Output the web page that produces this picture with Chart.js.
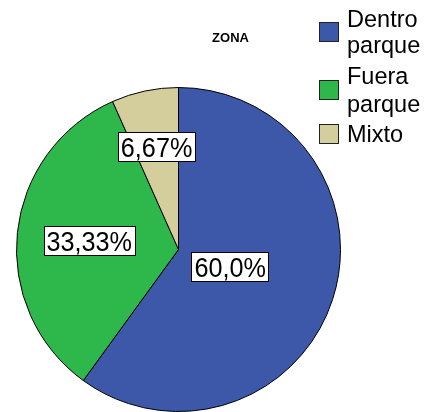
<!DOCTYPE html>
<html>
<head>
<meta charset="utf-8">
<script src="https://cdn.jsdelivr.net/npm/chart.js@4.4.0/dist/chart.umd.min.js"></script>
<style>
  body { margin: 0; background: #fff; }
  #wrap { position: relative; width: 431px; height: 412px; }
</style>
</head>
<body>
<div id="wrap"><canvas id="pieChart"></canvas></div>
<script>
// --- DATA ---
const chartTitle = 'ZONA';
const categories = [['Dentro', 'parque'], ['Fuera', 'parque'], ['Mixto']];
const counts = [9, 5, 1];
const pctLabels = ['60,0%', '33,33%', '6,67%'];
const sliceColors = ['#3D57A9', '#2EB84B', '#D3CE9B'];

// seberapa jauh label dari pusat (fraksi radius)
const labelRadius = [0.335, 0.554, 0.651];

// teks dengan skala horizontal (font referensi agak sempit)
function drawText(ctx, txt, x, y, size, sx, align) {
    ctx.save();
    ctx.font = size + 'px "Liberation Sans", Arial, sans-serif';
    ctx.textBaseline = 'alphabetic';
    ctx.textAlign = 'left';
    let w = ctx.measureText(txt).width * sx;
    let left = align === 'center' ? x - w / 2 : x;
    ctx.translate(left, y);
    ctx.scale(sx, 1);
    ctx.fillStyle = '#000';
    ctx.fillText(txt, 0, 0);
    ctx.restore();
    return w;
}

const labelPlugin = {
    id: 'pctBoxes',
    afterDatasetsDraw(chart) {
        const ctx = chart.ctx;
        const meta = chart.getDatasetMeta(0);
        meta.data.forEach((arc, i) => {
            const p = arc.getProps(['x', 'y', 'startAngle', 'endAngle', 'outerRadius'], true);
            const mid = (p.startAngle + p.endAngle) / 2;
            const r = p.outerRadius * labelRadius[i];
            const cx = p.x + Math.cos(mid) * r;
            const cy = p.y + Math.sin(mid) * r;
            ctx.save();
            ctx.font = '28px "Liberation Sans", Arial, sans-serif';
            const w = ctx.measureText(pctLabels[i]).width * 0.9 + 6;
            const h = 29;
            ctx.fillStyle = '#fff';
            ctx.fillRect(Math.round(cx - w / 2) + 0.5, Math.round(cy - h / 2) + 0.5, Math.round(w), h);
            ctx.strokeStyle = '#000';
            ctx.lineWidth = 1;
            ctx.strokeRect(Math.round(cx - w / 2) + 0.5, Math.round(cy - h / 2) + 0.5, Math.round(w), h);
            ctx.restore();
            drawText(ctx, pctLabels[i], cx, cy + 10.5, 28, 0.9, 'center');
        });
    }
};

const legendPlugin = {
    id: 'sideLegend',
    afterDraw(chart) {
        const ctx = chart.ctx;
        // judul
        ctx.save();
        ctx.font = 'bold 13px "Liberation Sans", Arial, sans-serif';
        ctx.fillStyle = '#000';
        ctx.textAlign = 'center';
        ctx.textBaseline = 'alphabetic';
        ctx.fillText(chartTitle, 230.5, 42);
        ctx.restore();

        const baselines = [[27, 53], [84, 112], [142]];
        categories.forEach((lines, i) => {
            const b = baselines[i];
            const top = b[0] - 17;
            const bottom = b[b.length - 1];
            const mid = (top + bottom) / 2;
            ctx.save();
            ctx.fillStyle = sliceColors[i];
            ctx.fillRect(319.5, Math.round(mid - 10) + 0.5, 19, 19);
            ctx.strokeStyle = '#222';
            ctx.lineWidth = 1;
            ctx.strokeRect(319.5, Math.round(mid - 10) + 0.5, 19, 19);
            ctx.restore();
            lines.forEach((t, j) => drawText(ctx, t, 347, b[j], 24.5, 0.96, 'left'));
        });
    }
};

const ctx = document.getElementById('pieChart').getContext('2d');
const pieChart = new Chart(ctx, {
    type: 'pie',
    data: {
        labels: categories.map(c => c.join(' ')),
        datasets: [{
            data: counts,
            backgroundColor: sliceColors,
            borderColor: '#000',
            borderWidth: 1
        }]
    },
    options: {
        responsive: true,
        maintainAspectRatio: false,
        animation: false,
        layout: { padding: { top: 87, bottom: 0, left: 16, right: 90 } },
        plugins: {
            legend: { display: false },
            tooltip: { enabled: false }
        }
    },
    plugins: [labelPlugin, legendPlugin]
});
</script>
</body>
</html>
